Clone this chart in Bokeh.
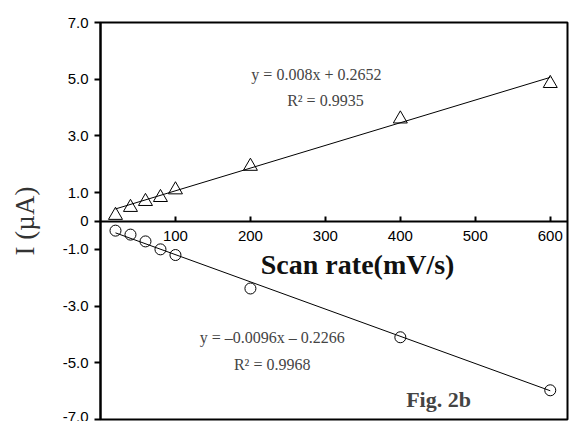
from bokeh.plotting import figure
from bokeh.models import FixedTicker, Label, Range1d
from bokeh.embed import file_html
from bokeh.resources import INLINE

# ---- data ----
scan_rate = [20, 40, 60, 80, 100, 200, 400, 600]
i_anodic = [0.20, 0.48, 0.69, 0.83, 1.10, 1.93, 3.60, 4.85]
i_cathodic = [-0.34, -0.48, -0.72, -1.00, -1.20, -2.38, -4.10, -5.97]
fit_anodic = (0.008, 0.2652)
fit_cathodic = (-0.0096, -0.2266)
y_ticks = [-7, -5, -3, -1, 0, 1, 3, 5, 7]
y_tick_labels = ["-7.0", "-5.0", "-3.0", "-1.0", "0", "1.0", "3.0", "5.0", "7.0"]
x_ticks = [100, 200, 300, 400, 500, 600]

p = figure(width=570, height=421, output_backend="svg", toolbar_location=None,
           x_range=Range1d(0, 623), y_range=Range1d(-7, 7),
           min_border_left=100, min_border_right=3, min_border_top=22, min_border_bottom=2)
p.grid.visible = False
p.outline_line_color = "black"
p.outline_line_width = 2
p.background_fill_color = "white"
p.border_fill_color = "white"

# trend lines
xs_line = [min(scan_rate), max(scan_rate)]
p.line(xs_line, [fit_anodic[0] * x + fit_anodic[1] for x in xs_line], line_color="black", line_width=1)
p.line(xs_line, [fit_cathodic[0] * x + fit_cathodic[1] for x in xs_line], line_color="black", line_width=1)

p.scatter(scan_rate, i_anodic, marker="triangle", size=14, fill_color=None, line_color="black", line_width=1)
p.scatter(scan_rate, i_cathodic, marker="circle", size=11, fill_color=None, line_color="black", line_width=1)

# x axis at y = 0
xa = p.xaxis[0]
xa.fixed_location = 0
xa.ticker = FixedTicker(ticks=x_ticks)
xa.minor_tick_line_color = None
xa.major_tick_in = 5
xa.major_tick_out = 0
xa.axis_line_width = 2
xa.major_tick_line_width = 2
xa.major_label_text_font = "Liberation Sans"
xa.major_label_text_font_size = "15px"
xa.major_label_text_color = "black"
xa.major_label_standoff = 10

ya = p.yaxis[0]
ya.ticker = FixedTicker(ticks=y_ticks)
ya.major_label_overrides = {t: l for t, l in zip(y_ticks, y_tick_labels)}
ya.minor_tick_line_color = None
ya.major_tick_in = 0
ya.major_tick_out = 6
ya.axis_line_width = 2
ya.major_tick_line_width = 2
ya.major_label_text_font = "Liberation Sans"
ya.major_label_text_font_size = "15px"
ya.major_label_text_color = "black"
ya.major_label_standoff = 6
ya.axis_label = "I (\u00b5A)"
ya.axis_label_text_font = "Liberation Serif"
ya.axis_label_text_font_style = "normal"
ya.axis_label_text_font_size = "27px"
ya.axis_label_text_color = "#333333"
ya.axis_label_standoff = 20

serif = "Liberation Serif"
p.add_layout(Label(x=343, y=-1.55, text="Scan rate(mV/s)", text_font=serif, text_font_style="bold",
                   text_font_size="28px", text_align="center", text_baseline="middle", text_color="#111111"))
p.add_layout(Label(x=288, y=5.15, text="y = 0.008x + 0.2652", text_font=serif,
                   text_font_size="16px", text_align="center", text_baseline="middle"))
p.add_layout(Label(x=300, y=4.25, text="R\u00b2 = 0.9935", text_font=serif,
                   text_font_size="16px", text_align="center", text_baseline="middle"))
p.add_layout(Label(x=229, y=-4.12, text="y = \u20130.0096x \u2013 0.2266", text_font=serif,
                   text_font_size="16px", text_align="center", text_baseline="middle"))
p.add_layout(Label(x=229, y=-5.05, text="R\u00b2 = 0.9968", text_font=serif,
                   text_font_size="16px", text_align="center", text_baseline="middle"))
p.add_layout(Label(x=451, y=-6.31, text="Fig. 2b", text_font=serif, text_font_style="bold",
                   text_font_size="22px", text_align="center", text_baseline="middle"))

open("out.html", "w").write(file_html(p, INLINE))
